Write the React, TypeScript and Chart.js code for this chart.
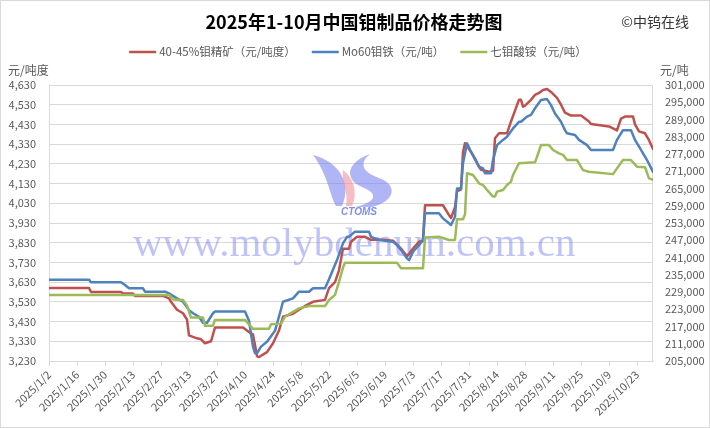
import React, { useEffect, useRef } from 'react';
import { Chart, registerables } from 'chart.js';

Chart.register(...registerables);

const chartTitle = '2025年1-10月中国钼制品价格走势图';
const sourceText = '©中钨在线';
const watermarkText = 'www.molybdenum.com.cn';
const logoText = 'CTOMS';
const leftAxisTitle = '元/吨度';
const rightAxisTitle = '元/吨';
const seriesNames = ['40-45%钼精矿（元/吨度）', 'Mo60钼铁（元/吨）', '七钼酸铵（元/吨）'];
const seriesColors = ['#C0504D', '#4F81BD', '#9BBB59'];

const xTickLabels = [
  '2025/1/2', '2025/1/16', '2025/1/30', '2025/2/13', '2025/2/27', '2025/3/13', '2025/3/27',
  '2025/4/10', '2025/4/24', '2025/5/8', '2025/5/22', '2025/6/5', '2025/6/19', '2025/7/3',
  '2025/7/17', '2025/7/31', '2025/8/14', '2025/8/28', '2025/9/11', '2025/9/25', '2025/10/9', '2025/10/23',
];
const axisStartDate = '1/2';
const axisEndDate = '10/31';

// 40-45% molybdenum concentrate (left axis, 元/吨度)
const concentrateDates = [
  '1/2', '1/22', '1/23', '2/7', '2/8', '2/13', '2/14', '2/28', '3/3', '3/4', '3/7', '3/10', '3/12', '3/13',
  '3/17', '3/19', '3/21', '3/24', '3/26', '4/9', '4/13', '4/14', '4/16', '4/17', '4/21', '4/24', '4/27',
  '4/29', '5/4', '5/7', '5/11', '5/14', '5/20', '5/22', '5/25', '5/27', '5/29', '6/1', '6/2', '6/5', '6/9',
  '6/12', '6/18', '6/23', '6/27', '6/30', '7/3', '7/6', '7/8', '7/9', '7/18', '7/21', '7/22', '7/24', '7/25',
  '7/27', '7/28', '7/29', '8/1', '8/5', '8/6', '8/10', '8/12', '8/13', '8/15', '8/19', '8/21', '8/23', '8/25',
  '8/26', '8/27', '8/28', '8/31', '9/2', '9/4', '9/6', '9/8', '9/10', '9/13', '9/15', '9/17', '9/20', '9/25',
  '9/27', '9/29', '9/30', '10/9', '10/10', '10/13', '10/15', '10/17', '10/21', '10/22', '10/24', '10/27',
  '10/29', '10/31',
];
const concentrateValues = [
  3600, 3600, 3580, 3580, 3572, 3572, 3560, 3560, 3548, 3530, 3490, 3472, 3440, 3360,
  3345, 3340, 3320, 3330, 3400, 3400, 3370, 3365, 3255, 3250, 3275, 3320, 3385,
  3455, 3470, 3490, 3515, 3530, 3540, 3600, 3630, 3690, 3800, 3800, 3835, 3860, 3860,
  3845, 3845, 3840, 3800, 3760, 3800, 3835, 3840, 4020, 4020, 3970, 3955, 4010, 4090,
  4100, 4290, 4335, 4290, 4215, 4200, 4190, 4195, 4360, 4385, 4385, 4445, 4500, 4555,
  4555, 4520, 4525, 4555, 4580, 4590, 4605, 4610, 4595, 4565, 4530, 4490, 4475, 4475,
  4460, 4445, 4432, 4420, 4415, 4400, 4460, 4470, 4470, 4430, 4395, 4385,
  4350, 4305,
];

// Mo60 ferromolybdenum (right axis, 元/吨)
const ferroDates = [
  '1/2', '1/22', '1/23', '2/7', '2/9', '2/11', '2/18', '2/19', '3/1', '3/3', '3/7', '3/10', '3/13', '3/15',
  '3/18', '3/20', '3/22', '3/25', '3/26', '4/10', '4/12', '4/14', '4/15', '4/16', '4/18', '4/21', '4/24',
  '4/25', '4/28', '4/29', '5/4', '5/7', '5/12', '5/14', '5/20', '5/22', '5/26', '5/29', '5/31', '6/1', '6/4',
  '6/11', '6/12', '6/16', '6/23', '6/25', '6/27', '6/30', '7/1', '7/3', '7/6', '7/8', '7/9', '7/16', '7/18',
  '7/21', '7/22', '7/24', '7/25', '7/27', '7/28', '7/30', '8/1', '8/3', '8/5', '8/7', '8/8', '8/11', '8/12',
  '8/14', '8/17', '8/19', '8/22', '8/25', '8/26', '8/29', '8/31', '9/2', '9/5', '9/8', '9/10', '9/12', '9/15',
  '9/17', '9/18', '9/22', '9/24', '9/28', '9/30', '10/11', '10/13', '10/16', '10/20', '10/22', '10/25',
  '10/28', '10/31',
];
const ferroValues = [
  233300, 233300, 232400, 232400, 231400, 230300, 230300, 229100, 229100, 228500, 226800, 225600, 222700, 221600,
  220400, 218300, 218300, 221600, 222200, 222200, 219000, 210000, 207700, 207700, 210000, 211700, 214600,
  215500, 223000, 225600, 226800, 229100, 229100, 230300, 230300, 233400, 240100, 245900, 248200, 248200, 250000,
  250000, 248200, 247100, 246500, 245300, 243600, 240700, 240100, 243000, 245300, 247000, 256400, 256400, 254600,
  252900, 252300, 255200, 265000, 265000, 273800, 280700, 277800, 275500, 272600, 272000, 270300, 270300, 274900,
  280100, 281900, 283000, 285900, 288200, 288200, 290000, 290600, 292900, 295800, 296100, 294000, 291100, 288200,
  285300, 284200, 283600, 281900, 280100, 278400, 278400, 281900, 285300, 285300, 281900, 278400,
  274900, 270800,
];

// Ammonium heptamolybdate (right axis, 元/吨)
const ahmDates = [
  '1/2', '3/3', '3/5', '3/10', '3/12', '3/14', '3/20', '3/21', '3/25', '3/26', '4/10', '4/14', '4/22', '4/23',
  '4/28', '4/30', '5/4', '5/7', '5/12', '5/20', '5/22', '5/25', '5/27', '5/29', '5/30', '6/25', '6/27', '7/8',
  '7/9', '7/16', '7/21', '7/24', '7/25', '7/28', '7/29', '7/30', '8/2', '8/5', '8/7', '8/9', '8/12', '8/13',
  '8/14', '8/17', '8/19', '8/21', '8/22', '8/25', '9/2', '9/3', '9/5', '9/9', '9/11', '9/14', '9/16', '9/18',
  '9/23', '9/26', '9/29', '10/11', '10/13', '10/16', '10/20', '10/23', '10/27', '10/29', '10/31',
];
const ahmValues = [
  228000, 228000, 226400, 226200, 224300, 220100, 220100, 217300, 217300, 219300, 219300, 216200, 216200, 217800,
  218000, 220400, 222100, 223300, 224100, 224100, 226200, 228000, 232500, 237500, 239200, 239200, 237300, 237300,
  248000, 248200, 247100, 247100, 254300, 254300, 256000, 270300, 269700, 266800, 266200, 264500, 262200, 262200,
  263900, 264500, 266200, 267400, 269700, 273800, 274100, 276000, 280100, 280100, 278400, 277200, 276700, 274900,
  274900, 271400, 270800, 270000, 272000, 274900, 274900, 272600, 272400, 268500, 268000,
];

const leftMin = 3230;
const leftMax = 4630;
const leftStep = 100;
const rightMin = 205000;
const rightMax = 301000;
const rightStep = 6000;

function dayOffset(md: string): number {
  const parts = md.split('/').map(Number);
  const m = parts[parts.length - 2];
  const d = parts[parts.length - 1];
  const [sm, sd] = axisStartDate.split('/').map(Number);
  return Math.round((Date.UTC(2025, m - 1, d) - Date.UTC(2025, sm - 1, sd)) / 86400000);
}

const xTickDays = xTickLabels.map(dayOffset);
const CJK = '"Noto Sans CJK SC", "Noto Sans", sans-serif';
const TEXT_GREY = '#595959';
const GRID = '#d9d9d9';

function drawLogo(ctx: CanvasRenderingContext2D) {
  ctx.save();
  // left blue flame
  ctx.fillStyle = 'rgba(112,122,236,0.55)';
  ctx.beginPath();
  ctx.moveTo(313, 155);
  ctx.bezierCurveTo(340, 162, 352, 184, 342, 206);
  ctx.lineTo(336, 206);
  ctx.bezierCurveTo(330, 196, 328, 175, 313, 155);
  ctx.fill();

  // pink flame
  ctx.fillStyle = 'rgba(240,135,148,0.55)';
  ctx.beginPath();
  ctx.moveTo(343, 170);
  ctx.bezierCurveTo(356, 180, 357, 196, 352, 206);
  ctx.lineTo(346, 206);
  ctx.bezierCurveTo(349, 193, 341, 182, 343, 170);
  ctx.fill();

  // right blue swirl
  ctx.fillStyle = 'rgba(112,122,236,0.55)';
  ctx.beginPath();
  ctx.moveTo(370, 154);
  ctx.bezierCurveTo(345, 163, 345, 180, 362, 187);
  ctx.bezierCurveTo(378, 193, 378, 202, 355, 207);
  ctx.lineTo(372, 207);
  ctx.bezierCurveTo(397, 201, 397, 184, 379, 178);
  ctx.bezierCurveTo(362, 172, 359, 163, 370, 154);
  ctx.fill();

  ctx.font = 'italic bold 10px "Liberation Sans", sans-serif';
  ctx.fillStyle = 'rgba(95,112,235,0.8)';
  ctx.textAlign = 'center';
  ctx.textBaseline = 'middle';
  ctx.fillText(logoText, 359, 212);
  ctx.restore();
}

const decorPlugin = {
  id: 'decor',
  beforeDraw(chart: any) {
    const ctx: CanvasRenderingContext2D = chart.ctx;
    ctx.save();
    ctx.fillStyle = '#ffffff';
    ctx.fillRect(0, 0, chart.width, chart.height);
    ctx.restore();
  },
  beforeDatasetsDraw(chart: any) {
    const ctx: CanvasRenderingContext2D = chart.ctx;
    const a = chart.chartArea;
    ctx.save();
    ctx.strokeStyle = GRID;
    ctx.lineWidth = 1;
    ctx.strokeRect(Math.round(a.left) + 0.5, Math.round(a.top) + 0.5, Math.round(a.right - a.left) - 1, Math.round(a.bottom - a.top));
    // watermark
    drawLogo(ctx);
    ctx.font = '41px "Liberation Serif", serif';
    ctx.fillStyle = 'rgba(112,122,240,0.45)';
    ctx.textAlign = 'left';
    ctx.textBaseline = 'alphabetic';
    ctx.fillText(watermarkText, 133, 256);
    ctx.restore();
  },
  afterDraw(chart: any) {
    const ctx: CanvasRenderingContext2D = chart.ctx;
    ctx.save();
    // outer border
    ctx.strokeStyle = GRID;
    ctx.lineWidth = 1;
    ctx.strokeRect(0.5, 0.5, chart.width - 1, chart.height - 1);

    // title
    ctx.fillStyle = '#000000';
    ctx.font = `bold 18px ${CJK}`;
    ctx.textAlign = 'center';
    ctx.textBaseline = 'middle';
    ctx.fillText(chartTitle, 354, 22);

    ctx.fillStyle = '#333333';
    ctx.font = `14px ${CJK}`;
    ctx.textAlign = 'right';
    ctx.fillText(sourceText, 689, 22);

    // legend
    ctx.font = `11.5px ${CJK}`;
    const lineLen = 27;
    const gapText = 3;
    const gapItem = 16;
    const widths = seriesNames.map((n) => ctx.measureText(n).width);
    const total = widths.reduce((s, w) => s + lineLen + gapText + w, 0) + gapItem * (seriesNames.length - 1);
    let x = 358 - total / 2;
    const ly = 52;
    seriesNames.forEach((name, i) => {
      ctx.strokeStyle = seriesColors[i];
      ctx.lineWidth = 2.5;
      ctx.beginPath();
      ctx.moveTo(x, ly);
      ctx.lineTo(x + lineLen, ly);
      ctx.stroke();
      ctx.fillStyle = TEXT_GREY;
      ctx.textAlign = 'left';
      ctx.fillText(name, x + lineLen + gapText, ly);
      x += lineLen + gapText + widths[i] + gapItem;
    });

    // axis titles
    ctx.font = `12px ${CJK}`;
    ctx.fillStyle = TEXT_GREY;
    ctx.textAlign = 'left';
    ctx.fillText(leftAxisTitle, 8, 70);
    ctx.fillText(rightAxisTitle, 660, 70);
    ctx.restore();
  },
};

export default function App() {
  const ref = useRef<HTMLCanvasElement>(null);

  useEffect(() => {
    const canvas = ref.current;
    if (!canvas) return;
    const mk = (dates: string[], values: number[]) => dates.map((d, i) => ({ x: dayOffset(d), y: values[i] }));
    const tickFont = { family: CJK, size: 11 };

    const chart = new Chart(canvas, {
      type: 'line',
      data: {
        datasets: [
          { label: seriesNames[0], data: mk(concentrateDates, concentrateValues), borderColor: seriesColors[0], backgroundColor: seriesColors[0], yAxisID: 'y', order: 3 },
          { label: seriesNames[1], data: mk(ferroDates, ferroValues), borderColor: seriesColors[1], backgroundColor: seriesColors[1], yAxisID: 'y1', order: 2 },
          { label: seriesNames[2], data: mk(ahmDates, ahmValues), borderColor: seriesColors[2], backgroundColor: seriesColors[2], yAxisID: 'y1', order: 1 },
        ],
      },
      options: {
        animation: false,
        responsive: false,
        devicePixelRatio: 1,
        layout: { padding: { top: 85, left: 0, right: 0, bottom: 0 } },
        elements: {
          point: { radius: 0 },
          line: { borderWidth: 2.5, tension: 0, borderCapStyle: 'round', borderJoinStyle: 'round', fill: false },
        },
        plugins: {
          legend: { display: false },
          title: { display: false },
          tooltip: { enabled: false },
        },
        scales: {
          x: {
            type: 'linear',
            min: 0,
            max: dayOffset(axisEndDate),
            afterBuildTicks: (s: any) => {
              s.ticks = xTickDays.map((v) => ({ value: v }));
            },
            afterFit: (s: any) => {
              s.height = 67;
            },
            ticks: {
              autoSkip: false,
              minRotation: 45,
              maxRotation: 45,
              padding: 2,
              color: TEXT_GREY,
              font: tickFont,
              callback: (_v: any, i: number) => xTickLabels[i],
            },
            grid: { drawOnChartArea: false, drawTicks: true, tickLength: 5, color: GRID },
            border: { display: true, color: GRID },
          },
          y: {
            type: 'linear',
            position: 'left',
            min: leftMin,
            max: leftMax,
            afterFit: (s: any) => {
              s.width = 49;
            },
            ticks: {
              stepSize: leftStep,
              padding: 13,
              color: TEXT_GREY,
              font: tickFont,
              callback: (v: any) => Number(v).toLocaleString('en-US'),
            },
            grid: { color: GRID, drawTicks: false },
            border: { display: false },
          },
          y1: {
            type: 'linear',
            position: 'right',
            min: rightMin,
            max: rightMax,
            afterFit: (s: any) => {
              s.width = 57;
            },
            ticks: {
              stepSize: rightStep,
              padding: 12,
              color: TEXT_GREY,
              font: tickFont,
              callback: (v: any) => Number(v).toLocaleString('en-US'),
            },
            grid: { display: false, drawTicks: false },
            border: { display: false },
          },
        },
      } as any,
      plugins: [decorPlugin],
    });
    return () => chart.destroy();
  }, []);

  return (
    <div style={{ position: 'fixed', left: 0, top: 0, width: 710, height: 428, background: '#ffffff' }}>
      <canvas ref={ref} width={710} height={428} style={{ display: 'block' }} />
    </div>
  );
}
